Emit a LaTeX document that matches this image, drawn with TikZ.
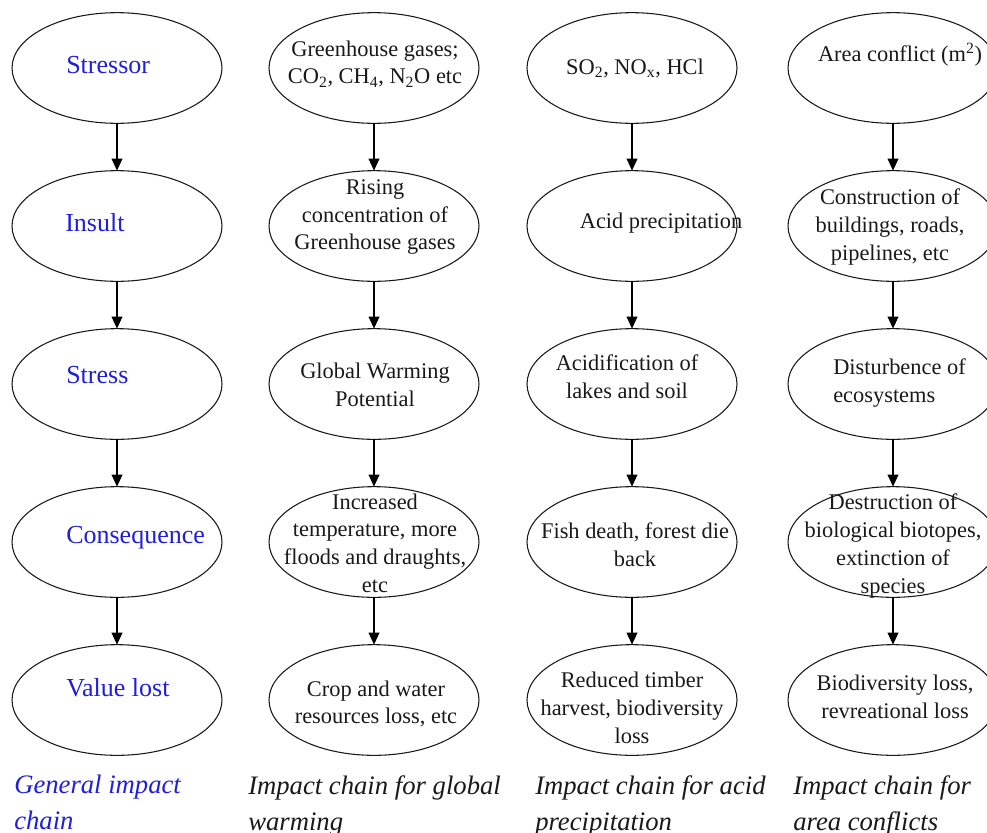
\documentclass[tikz,border=0pt]{standalone}
\usepackage{fontspec}
\setmainfont{Liberation Serif}
\usetikzlibrary{shapes.geometric,arrows.meta}
\definecolor{lblue}{RGB}{30,30,220}
\definecolor{ink}{RGB}{25,25,25}
\tikzset{
  oval/.style={ellipse, draw=ink, line width=0.8pt, minimum width=157.5pt, minimum height=83pt, inner sep=0pt, outer sep=0pt},
  txt/.style={font=\fontsize{16.8pt}{20.8pt}\selectfont, text=ink, align=center, inner sep=0pt},
  btxt/.style={font=\fontsize{19.5pt}{23pt}\selectfont, text=lblue, anchor=west, inner sep=0pt},
  captext/.style={font=\fontsize{20pt}{27pt}\selectfont\itshape, text=ink, align=left, anchor=north west, inner sep=0pt},
  arr/.style={-{Triangle[length=9pt,width=8pt]}, line width=1.1pt, draw=black}
}
\begin{document}
\begin{tikzpicture}[x=0.75pt,y=-0.75pt]
\useasboundingbox (0,0) rectangle (987,832);
% ellipses
\foreach \c/\x in {1/117,2/374,3/632,4/893}{
  \foreach \r/\y in {1/68,2/226,3/384,4/542,5/700}{
    \node[oval] (e\c\r) at (\x,\y) {};
  }
}
% arrows
\foreach \c in {1,2,3,4}{
  \foreach \r/\s in {1/2,2/3,3/4,4/5}{
    \draw[arr] (e\c\r.south) -- (e\c\s.north);
  }
}
% column 1
\node[btxt] (t11) at (66,65) {Stressor};
\node[btxt] (t12) at (65,223) {Insult};
\node[btxt] (t13) at (66,375) {Stress};
\node[btxt] (t14) at (66,538) {Consequence};
\node[btxt] (t15) at (66,688) {Value lost};
% column 2
\node[txt] (t21) at (375,64) {Greenhouse gases;\\CO\textsubscript{2}, CH\textsubscript{4}, N\textsubscript{2}O etc};
\node[txt] (t22) at (375,217) {Rising\\concentration of\\Greenhouse gases};
\node[txt] (t23) at (375,385) {Global Warming\\Potential};
\node[txt] (t24) at (375,543) {Increased\\temperature, more\\floods and draughts,\\etc};
\node[txt] (t25) at (376,704) {Crop and water\\resources loss, etc};
% column 3
\node[txt] (t31) at (635,68) {SO\textsubscript{2}, NO\textsubscript{x}, HCl};
\node[txt] (t32) at (661,223) {Acid precipitation};
\node[txt] (t33) at (627,377) {Acidification of\\lakes and soil};
\node[txt] (t34) at (635,545) {Fish death, forest die\\back};
\node[txt] (t35) at (632,708) {Reduced timber\\harvest, biodiversity\\loss};
% column 4
\node[txt] (t41) at (900,55) {Area conflict (m\textsuperscript{2})};
\node[txt] (t42) at (890,227) {Construction of\\buildings, roads,\\pipelines, etc};
\node[txt, align=left, anchor=west] (t43) at (833,383) {Disturbence of\\ecosystems};
\node[txt] (t44) at (893,546) {Destruction of\\biological biotopes,\\extinction of\\species};
\node[txt] (t45) at (895,697) {Biodiversity loss,\\revreational loss};
% captions
\node[captext, text=lblue] (c1) at (14,775) {General impact\\chain};
\node[captext] (c2) at (248,775) {Impact chain for global\\warming};
\node[captext] (c3) at (535,775) {Impact chain for acid\\precipitation};
\node[captext] (c4) at (793,775) {Impact chain for\\area conflicts};
\end{tikzpicture}
\end{document}
